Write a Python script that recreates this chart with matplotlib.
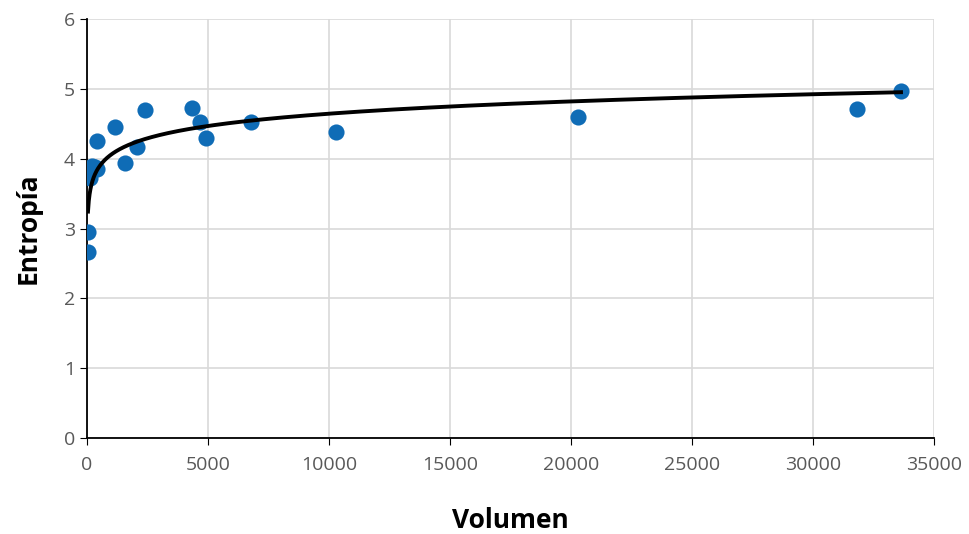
import numpy as np
import matplotlib.pyplot as plt

plt.rcParams['font.family'] = ['Open Sans', 'DejaVu Sans']

# - Data
volumen = [40, 45, 120, 200, 330, 400, 410, 1160, 1570, 2070, 2400,
           4340, 4670, 4920, 6780, 10290, 20290, 31820, 33640]
entropia = [2.66, 2.95, 3.72, 3.90, 3.88, 3.85, 4.25, 4.45, 3.94, 4.17, 4.70,
            4.73, 4.52, 4.30, 4.53, 4.38, 4.60, 4.71, 4.97]

# - Logarithmic trend line (as in the spreadsheet)
a, b = np.polyfit(np.log(volumen), entropia, 1)
xs = np.linspace(min(volumen), max(volumen), 2000)
ys = a * np.log(xs) + b

fig = plt.figure(figsize=(9.69, 5.34), dpi=100)
ax = fig.add_axes([0.0898, 0.18, 0.874, 0.784])

ax.scatter(volumen, entropia, s=135, color='#0F6CB6', zorder=3, linewidths=0)
ax.plot(xs, ys, color='black', lw=2.8, zorder=4)

ax.set_xlim(0, 35000)
ax.set_ylim(0, 6)
ax.set_xticks(np.arange(0, 35001, 5000))
ax.set_yticks(np.arange(0, 7, 1))
ax.grid(True, color='#D9D9D9', lw=1.2)
ax.set_axisbelow(True)

for s in ['top', 'right']:
    ax.spines[s].set_visible(False)
for s in ['left', 'bottom']:
    ax.spines[s].set_color('black')
    ax.spines[s].set_linewidth(1.3)

ax.tick_params(axis='both', direction='out', length=5, color='black',
               labelsize=14, labelcolor='#595959')
ax.tick_params(axis='x', pad=8)

ax.set_xlabel('Volumen', fontsize=19, fontweight='bold', labelpad=24)
ax.set_ylabel('Entropía', fontsize=19, fontweight='bold', labelpad=16)

fig.savefig('out.png', dpi=100)
